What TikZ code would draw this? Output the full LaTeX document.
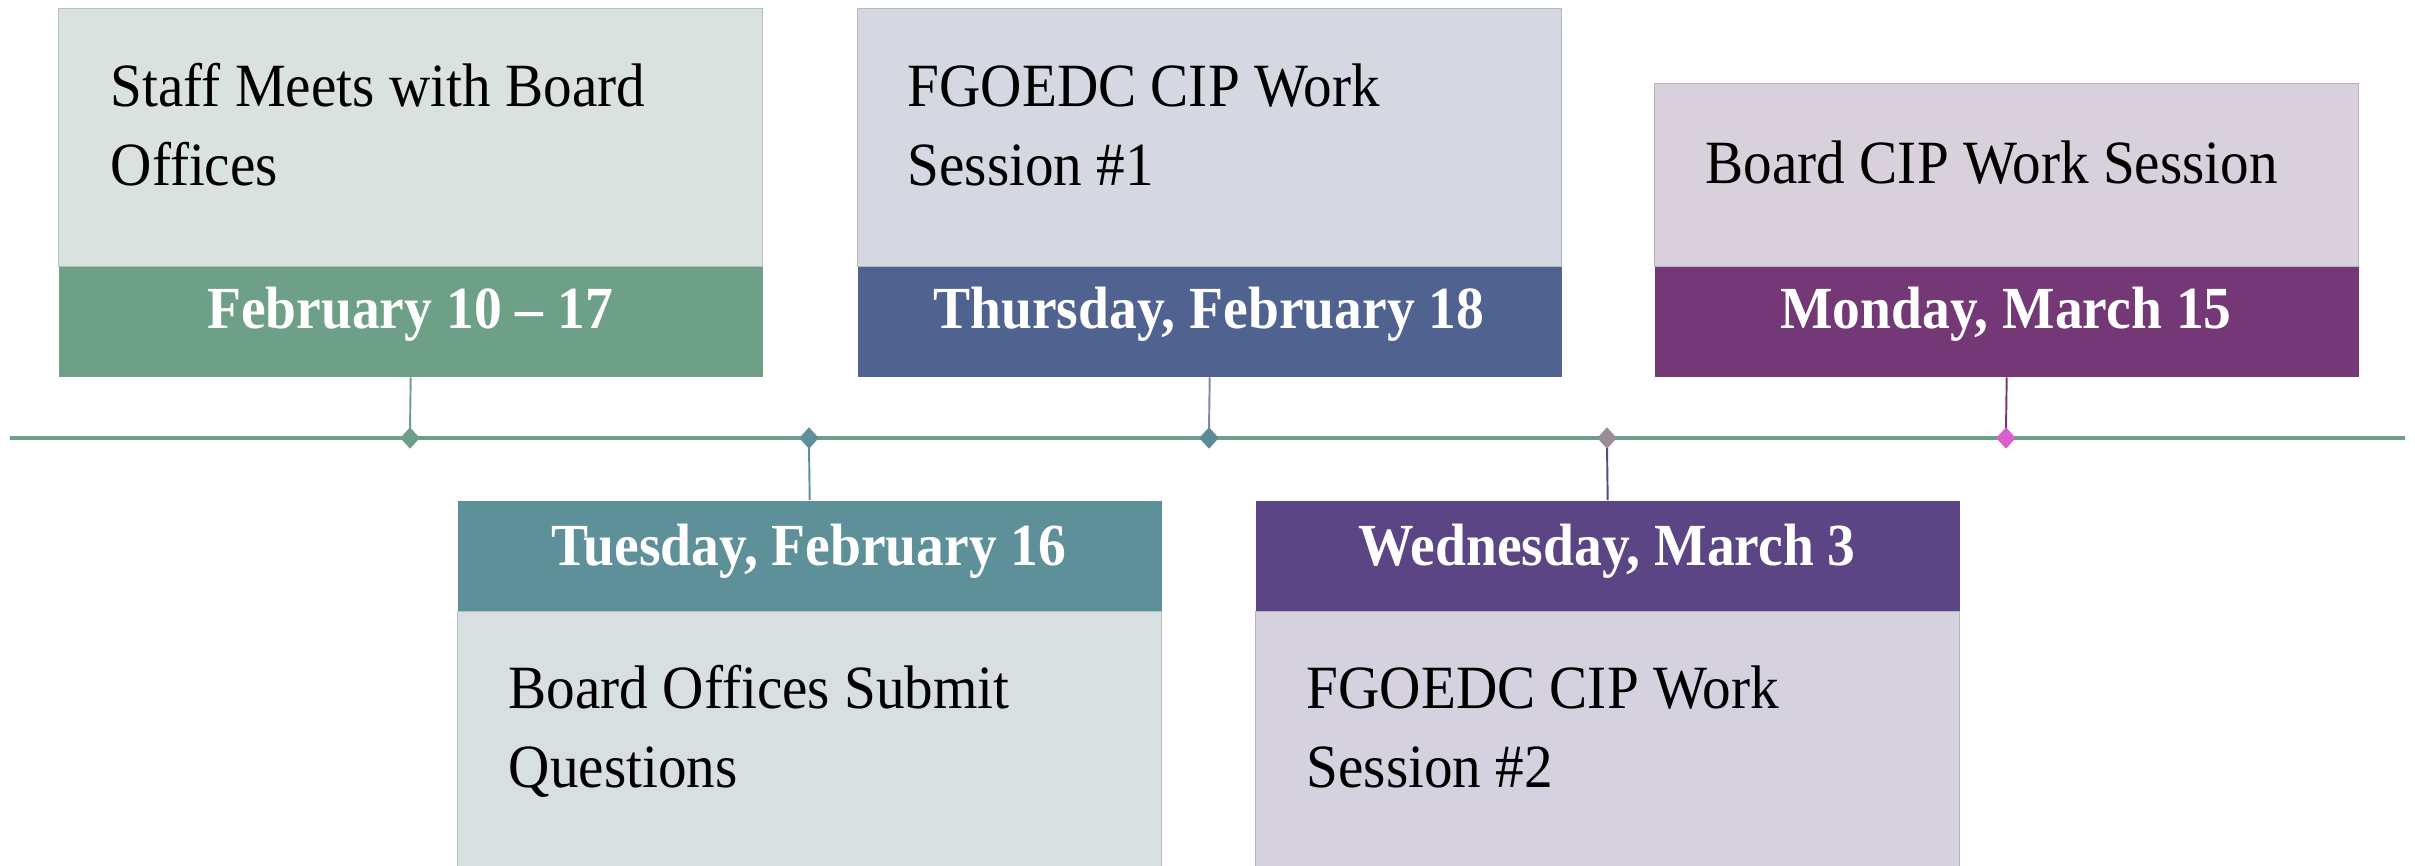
\documentclass[tikz,border=0pt]{standalone}
\usepackage{fontspec}
\setmainfont[FakeStretch=0.93]{Liberation Serif}
\usetikzlibrary{shapes.geometric}
\definecolor{gband}{HTML}{6E9F87}\definecolor{glight}{HTML}{D9E2DE}
\definecolor{bband}{HTML}{50628F}\definecolor{blight}{HTML}{D5D8E0}
\definecolor{mband}{HTML}{743876}\definecolor{mlight}{HTML}{D8D1DB}
\definecolor{tband}{HTML}{5D9099}\definecolor{tlight}{HTML}{D7DFE1}
\definecolor{pband}{HTML}{5B4584}\definecolor{plight}{HTML}{D5D1DE}
\definecolor{dthree}{HTML}{5A8C98}\definecolor{dfour}{HTML}{9A8C98}
\definecolor{dfive}{HTML}{D95FD0}\definecolor{cthree}{HTML}{7D88AA}
\definecolor{cfive}{HTML}{8E4A8F}
\tikzset{
  panel/.style={rectangle, anchor=north west, inner sep=0pt, minimum width=7.04cm, draw=#1!85!black, line width=0.3pt, fill=#1},
  band/.style={rectangle, anchor=north west, inner sep=0pt, minimum width=7.04cm, minimum height=1.10cm, fill=#1},
  datetext/.style={anchor=base, inner sep=0pt, text=white, font=\fontsize{17}{20}\selectfont\bfseries},
  evtext/.style={anchor=base west, inner sep=0pt, align=left, font=\fontsize{17.5}{22.3}\selectfont},
  tick/.style={shape=diamond, fill=#1, draw=none, inner sep=0pt, minimum width=0.2cm, minimum height=0.22cm, aspect=0.9},
  link/.style={draw=#1, line width=0.55pt},
}
\begin{document}
\begin{tikzpicture}
\useasboundingbox (0,0) rectangle (24.15,-8.65);
% timeline
\coordinate (tlL) at (0.10,-4.38);
\coordinate (tlR) at (24.05,-4.38);
\draw[gband, line width=1.1pt] (tlL) -- (tlR);
% event 1
\node[panel=glight, minimum height=2.58cm] (p1) at (0.58,-0.08) {};
\node[band=gband] (b1) at (0.58,-2.66) {};
\node[datetext] (t1) at (4.10,-3.28) {February 10 – 17};
\node[evtext] (e1) at (1.10,-1.85) {Staff Meets with Board\\Offices};
% event 2
\node[panel=blight, minimum height=2.58cm] (p2) at (8.57,-0.08) {};
\node[band=bband] (b2) at (8.57,-2.66) {};
\node[datetext] (t2) at (12.09,-3.28) {Thursday, February 18};
\node[evtext] (e2) at (9.07,-1.85) {FGOEDC CIP Work\\Session \#1};
% event 3
\node[panel=mlight, minimum height=1.83cm] (p3) at (16.54,-0.83) {};
\node[band=mband] (b3) at (16.54,-2.66) {};
\node[datetext] (t3) at (20.06,-3.28) {Monday, March 15};
\node[evtext] (e3) at (17.05,-1.83) {Board CIP Work Session};
% event 4
\node[band=tband, minimum height=1.11cm] (b4) at (4.57,-5.00) {};
\node[panel=tlight, minimum height=2.70cm] (p4) at (4.57,-6.11) {};
\node[datetext] (t4) at (8.09,-5.65) {Tuesday, February 16};
\node[evtext] (e4) at (5.08,-7.87) {Board Offices Submit\\Questions};
% event 5
\node[band=pband, minimum height=1.11cm] (b5) at (12.55,-5.00) {};
\node[panel=plight, minimum height=2.70cm] (p5) at (12.55,-6.11) {};
\node[datetext] (t5) at (16.07,-5.65) {Wednesday, March 3};
\node[evtext] (e5) at (13.06,-7.87) {FGOEDC CIP Work\\Session \#2};
% connectors
\draw[link=gband] (b1.south) -- (4.10,-4.30) coordinate (c1);
\draw[link=cthree] (b2.south) -- (12.09,-4.30) coordinate (c3);
\draw[link=mband] (b3.south) -- (20.06,-4.30) coordinate (c5);
\draw[link=tband] (b4.north) -- (8.09,-4.46) coordinate (c2);
\draw[link=pband] (b5.north) -- (16.07,-4.46) coordinate (c4);
% diamonds
\node[tick=gband] (d1) at (4.10,-4.38) {};
\node[tick=tband] (d2) at (8.09,-4.38) {};
\node[tick=dthree] (d3) at (12.09,-4.38) {};
\node[tick=dfour] (d4) at (16.07,-4.38) {};
\node[tick=dfive] (d5) at (20.06,-4.38) {};
\end{tikzpicture}
\end{document}
